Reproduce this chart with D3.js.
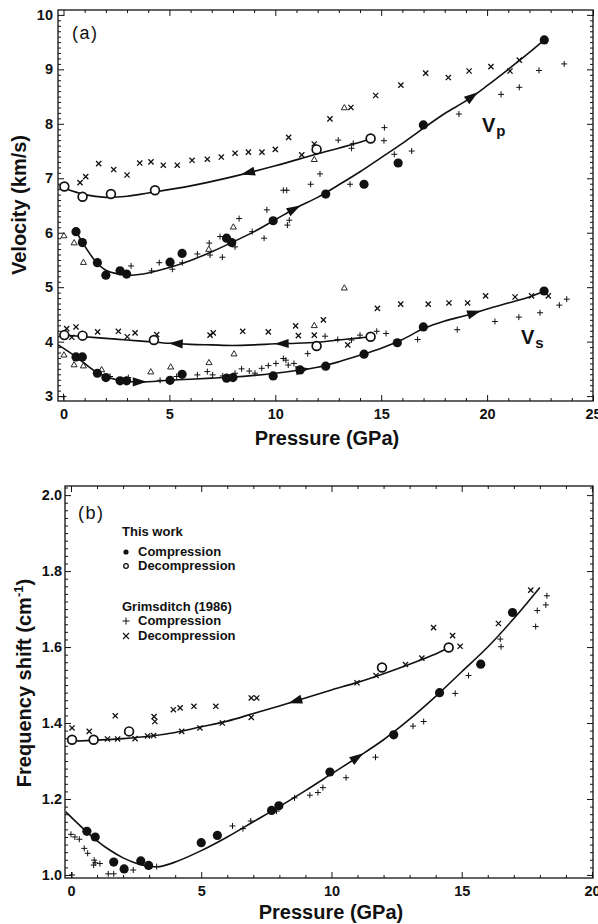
<!DOCTYPE html>
<html>
<head>
<meta charset="utf-8">
<script src="https://cdn.jsdelivr.net/npm/d3@7"></script>
<style>
  body { margin: 0; background: #fff; }
  svg { display: block; font-family: "Liberation Sans", Arial, Helvetica, sans-serif; }
  .tick text { font-size: 14.5px; font-weight: bold; fill: #111; }
  .tick line { stroke: #111; stroke-width: 1; }
  .fit { fill: none; stroke: #111; stroke-width: 1.6; }
</style>
</head>
<body>
<div id="chart"></div>
<script>
// ---------- panel (a): velocities vs pressure ----------
var vpCompThis = [[0.59,6.02],[0.89,5.82],[1.6,5.45],[2.0,5.22],[2.67,5.30],[2.98,5.24],[5.03,5.46],[5.6,5.62],[7.7,5.90],[7.94,5.82],[9.9,6.22],[12.38,6.71],[14.19,6.89],[15.8,7.28],[16.99,7.98],[22.7,9.54]];
var vpDecompThis = [[0.04,6.85],[0.9,6.66],[2.24,6.71],[4.32,6.78],[11.95,7.53],[14.5,7.73]];
var vpDecompG = [[0.78,6.92],[1.05,7.03],[1.66,7.27],[2.37,7.16],[3.0,7.06],[3.6,7.28],[4.13,7.30],[4.71,7.24],[5.37,7.24],[6.07,7.33],[6.79,7.35],[7.45,7.39],[8.1,7.46],[8.73,7.48],[9.37,7.48],[10.0,7.53],[10.63,7.75],[11.25,7.43],[11.84,7.63],[12.58,8.09],[13.57,8.30],[14.74,8.52],[15.93,8.71],[17.1,8.93],[18.17,8.85],[19.15,8.97],[20.18,9.05],[21.08,8.97],[21.52,9.17]];
var vpCompG = [[3.19,5.39],[4.16,5.30],[4.52,5.45],[5.14,5.33],[5.61,5.45],[6.32,5.61],[6.88,5.81],[6.92,5.59],[7.5,5.55],[7.39,5.93],[8.1,5.74],[8.91,6.02],[9.47,5.90],[8.29,6.26],[9.6,6.42],[10.57,6.14],[10.66,6.23],[10.38,6.78],[10.54,6.78],[12.11,7.08],[11.67,6.89],[13.53,6.89],[12.97,7.70],[13.6,7.55],[13.68,7.64],[15.13,7.69],[15.15,7.93],[15.62,7.44],[16.44,7.50],[18.67,8.18],[20.66,8.54],[21.52,8.67],[22.45,8.98],[23.64,9.10]];
var vpTri = [[0.02,5.94],[0.5,5.81],[0.94,5.45],[6.86,5.69],[8.02,6.10],[11.84,7.34],[13.26,8.29]];

var vsCompThis = [[0.59,3.72],[0.89,3.72],[1.6,3.42],[2.0,3.34],[2.67,3.28],[2.98,3.28],[5.03,3.29],[5.6,3.40],[7.7,3.33],[8.0,3.34],[9.9,3.37],[11.17,3.48],[12.38,3.55],[14.19,3.77],[15.76,3.98],[16.99,4.27],[22.69,4.93]];
var vsDecompThis = [[0.04,4.12],[0.9,4.11],[4.27,4.03],[11.95,3.92],[14.5,4.09]];
var vsDecompG = [[0.15,4.24],[0.39,4.08],[0.59,4.27],[1.61,4.18],[2.59,4.19],[3.01,4.09],[3.38,4.16],[4.4,4.13],[6.92,4.12],[7.07,4.16],[8.46,4.19],[9.67,4.18],[10.96,4.29],[11.09,4.11],[11.84,4.12],[12.27,4.40],[13.42,3.94],[14.82,4.61],[15.92,4.69],[17.22,4.69],[18.2,4.71],[19.08,4.71],[19.93,4.84],[21.32,4.82],[22.1,4.84],[22.89,4.84]];
var vsCompG = [[0.0,2.99],[2.2,3.36],[3.06,3.34],[4.56,3.29],[5.34,3.36],[6.32,3.39],[6.79,3.45],[7.04,3.39],[7.52,3.37],[8.1,3.42],[8.41,3.50],[8.77,3.46],[9.04,3.42],[9.36,3.51],[9.67,3.56],[10.03,3.60],[10.38,3.69],[10.5,3.66],[10.61,3.57],[10.88,3.60],[11.53,3.78],[12.35,4.10],[12.95,4.04],[13.6,4.03],[14.0,4.12],[14.79,4.19],[15.23,4.15],[16.72,4.04],[18.59,4.22],[20.37,4.37],[21.5,4.45],[22.5,4.53],[23.41,4.67],[23.76,4.78]];
var vsTri = [[0.02,3.75],[0.5,3.57],[0.94,3.55],[1.8,3.48],[4.12,3.44],[5.06,3.53],[6.87,3.61],[8.05,3.77],[11.84,4.29],[13.26,4.98]];

// fitted trend lines
var vpCompFit = [[0.6,6.02],[0.9,5.82],[1.5,5.48],[2.0,5.31],[2.6,5.24],[3.2,5.22],[4.0,5.26],[5.0,5.36],[6.0,5.49],[7.0,5.65],[8.0,5.83],[9.0,6.02],[10.0,6.24],[11.0,6.46],[12.0,6.65],[13.0,6.88],[14.0,7.12],[15.0,7.38],[16.0,7.64],[17.0,7.92],[18.0,8.19],[19.0,8.42],[20.0,8.70],[21.0,9.00],[22.0,9.31],[22.7,9.54]];
var vpDecompFit = [[0.0,6.82],[1.0,6.70],[2.0,6.65],[3.0,6.67],[4.0,6.73],[6.0,6.86],[8.0,7.03],[10.0,7.23],[12.0,7.45],[14.0,7.66],[14.5,7.73]];
var vsCompFit = [[-0.25,3.94],[0.6,3.72],[1.6,3.43],[2.5,3.30],[3.5,3.26],[5.0,3.29],[6.0,3.31],[7.0,3.33],[8.0,3.35],[9.0,3.38],[10.0,3.42],[11.0,3.47],[12.0,3.53],[13.0,3.63],[14.0,3.75],[15.0,3.88],[16.0,4.04],[17.0,4.24],[18.0,4.38],[19.0,4.48],[20.0,4.60],[21.0,4.71],[22.0,4.82],[22.7,4.93]];
var vsDecompFit = [[0.0,4.12],[1.0,4.09],[2.0,4.06],[3.0,4.03],[4.0,4.00],[5.0,3.97],[6.0,3.95],[7.0,3.94],[8.0,3.93],[9.0,3.94],[10.0,3.96],[11.0,3.97],[12.0,3.99],[13.0,4.03],[14.0,4.07],[14.5,4.09]];

var vpCompArrows = [10.9, 19.3];
var vpDecompArrows = [8.7];
var vsCompArrows = [3.6, 11.3, 19.4];
var vsDecompArrows = [5.3, 10.3];

// ---------- panel (b): frequency shift vs pressure ----------
var fCompThis = [[0.61,1.115],[0.93,1.10],[1.64,1.034],[2.04,1.016],[2.68,1.037],[2.98,1.025],[5.0,1.085],[5.62,1.104],[7.7,1.17],[7.98,1.182],[9.94,1.271],[12.39,1.369],[14.15,1.48],[15.73,1.555],[16.95,1.691]];
var fDecompThis = [[0.04,1.356],[0.87,1.356],[2.23,1.378],[11.94,1.546],[14.5,1.599]];
var fDecompG = [[0.04,1.387],[0.7,1.378],[1.4,1.358],[1.70,1.419],[1.79,1.358],[2.46,1.359],[2.94,1.366],[3.17,1.367],[3.19,1.417],[3.22,1.404],[3.93,1.435],[4.19,1.44],[4.25,1.378],[4.72,1.444],[4.95,1.387],[5.56,1.444],[5.81,1.40],[6.92,1.466],[7.13,1.466],[6.92,1.415],[10.98,1.506],[11.71,1.525],[12.84,1.554],[13.47,1.571],[13.92,1.651],[14.65,1.63],[14.94,1.602],[16.41,1.662],[17.65,1.75]];
var fCompG = [[0.0,1.107],[0.15,1.10],[0.32,1.094],[0.51,1.07],[0.64,1.057],[0.89,1.039],[0.93,1.032],[0.87,1.026],[1.11,1.03],[1.43,1.003],[1.64,1.003],[2.39,1.013],[0.04,1.0],[3.29,1.022],[6.2,1.129],[6.6,1.122],[6.9,1.142],[7.89,1.168],[8.58,1.203],[9.17,1.21],[9.48,1.217],[9.67,1.23],[10.56,1.256],[11.69,1.31],[13.13,1.392],[13.54,1.404],[14.75,1.478],[15.26,1.525],[16.48,1.621],[16.51,1.601],[17.84,1.654],[17.9,1.696],[18.23,1.711],[18.27,1.735]];

var fCompFit = [[-0.2,1.166],[0.5,1.12],[1.0,1.09],[1.5,1.065],[2.0,1.045],[2.5,1.031],[3.0,1.023],[3.4,1.022],[4.0,1.034],[5.0,1.064],[6.0,1.10],[7.0,1.14],[8.0,1.18],[9.0,1.222],[10.0,1.266],[11.0,1.31],[12.0,1.356],[13.0,1.41],[14.0,1.47],[15.0,1.535],[16.0,1.60],[17.0,1.675],[18.0,1.757]];
var fDecompFit = [[0.0,1.352],[1.0,1.355],[2.0,1.359],[3.0,1.365],[4.0,1.375],[5.0,1.39],[6.0,1.405],[7.0,1.425],[8.0,1.445],[9.0,1.466],[10.0,1.487],[11.0,1.507],[12.0,1.53],[13.0,1.555],[14.0,1.582],[14.5,1.598]];
var fCompArrows = [11.0];
var fDecompArrows = [8.6];

var legendRows = ["Compression", "Decompression"];

// ---------- drawing ----------
var W = 598, H = 924;
var svg = d3.select("#chart").append("svg").attr("width", W).attr("height", H);

function range(a, b, s) {
  var out = [];
  for (var i = 0; a + i * s <= b + 1e-9; i++) out.push(+(a + i * s).toFixed(4));
  return out;
}
function notIn(list, ref) {
  return list.filter(function(v) { return !ref.some(function(r) { return Math.abs(r - v) < 1e-6; }); });
}

function frame(box, x, y, xMaj, xMin, yMaj, yMin, yFmt, yPad) {
  var g = svg.append("g");
  g.append("g").attr("transform", "translate(0," + box.bottom + ")")
    .call(d3.axisBottom(x).tickValues(xMaj).tickSize(-6).tickPadding(8).tickFormat(d3.format("d")));
  g.append("g").attr("transform", "translate(0," + box.bottom + ")")
    .call(d3.axisBottom(x).tickValues(notIn(xMin, xMaj)).tickSize(-3).tickFormat(""));
  g.append("g").attr("transform", "translate(0," + box.top + ")")
    .call(d3.axisTop(x).tickValues(xMaj).tickSize(-6).tickFormat(""));
  g.append("g").attr("transform", "translate(0," + box.top + ")")
    .call(d3.axisTop(x).tickValues(notIn(xMin, xMaj)).tickSize(-3).tickFormat(""));
  g.append("g").attr("transform", "translate(" + box.left + ",0)")
    .call(d3.axisLeft(y).tickValues(yMaj).tickSize(-6).tickPadding(yPad).tickFormat(yFmt));
  g.append("g").attr("transform", "translate(" + box.left + ",0)")
    .call(d3.axisLeft(y).tickValues(notIn(yMin, yMaj)).tickSize(-3).tickFormat(""));
  g.append("g").attr("transform", "translate(" + box.right + ",0)")
    .call(d3.axisRight(y).tickValues(yMaj).tickSize(-6).tickFormat(""));
  g.append("g").attr("transform", "translate(" + box.right + ",0)")
    .call(d3.axisRight(y).tickValues(notIn(yMin, yMaj)).tickSize(-3).tickFormat(""));
  g.selectAll(".domain").remove();
  g.append("rect")
    .attr("x", box.left).attr("y", box.top)
    .attr("width", box.right - box.left).attr("height", box.bottom - box.top)
    .attr("fill", "none").attr("stroke", "#111").attr("stroke-width", 1.3);
}

function points(x, y, data, kind) {
  var g = svg.append("g");
  data.forEach(function(d) {
    var px = x(d[0]), py = y(d[1]);
    if (kind == "filled") {
      g.append("circle").attr("cx", px).attr("cy", py).attr("r", 4.6).attr("fill", "#111");
    } else if (kind == "open") {
      g.append("circle").attr("cx", px).attr("cy", py).attr("r", 4.4)
        .attr("fill", "#fff").attr("stroke", "#111").attr("stroke-width", 1.7);
    } else if (kind == "plus") {
      g.append("path").attr("d", "M" + (px - 3) + "," + py + "h6M" + px + "," + (py - 3) + "v6")
        .attr("stroke", "#111").attr("stroke-width", 1);
    } else if (kind == "cross") {
      g.append("path").attr("d", "M" + (px - 2.6) + "," + (py - 2.6) + "l5.2,5.2M" + (px - 2.6) + "," + (py + 2.6) + "l5.2,-5.2")
        .attr("stroke", "#111").attr("stroke-width", 1.3);
    } else if (kind == "tri") {
      g.append("path").attr("d", d3.symbol(d3.symbolTriangle, 16)())
        .attr("transform", "translate(" + px + "," + py + ")")
        .attr("fill", "none").attr("stroke", "#111").attr("stroke-width", 0.9);
    }
  });
}

function fit(x, y, nodes) {
  var line = d3.line().curve(d3.curveCatmullRom.alpha(0.5))
    .x(function(d) { return x(d[0]); }).y(function(d) { return y(d[1]); });
  svg.append("path").datum(nodes).attr("class", "fit").attr("d", line);
}

function at(nodes, p) {
  for (var i = 1; i < nodes.length; i++) {
    if (p <= nodes[i][0]) {
      var t = (p - nodes[i - 1][0]) / (nodes[i][0] - nodes[i - 1][0]);
      return nodes[i - 1][1] + t * (nodes[i][1] - nodes[i - 1][1]);
    }
  }
  return nodes[nodes.length - 1][1];
}

function arrows(x, y, nodes, list, dir) {
  list.forEach(function(p) {
    var x0 = x(p - 0.3), y0 = y(at(nodes, p - 0.3));
    var x1 = x(p + 0.3), y1 = y(at(nodes, p + 0.3));
    var ang = Math.atan2(y1 - y0, x1 - x0) * 180 / Math.PI + (dir < 0 ? 180 : 0);
    svg.append("path").attr("d", "M7,0L-7,-4.6L-7,4.6Z")
      .attr("transform", "translate(" + x(p) + "," + y(at(nodes, p)) + ") rotate(" + ang + ")")
      .attr("fill", "#111");
  });
}

// ----- panel (a) -----
var boxA = {left: 58, right: 593, top: 10, bottom: 401};
var xA = d3.scaleLinear().domain([-0.26, 25]).range([boxA.left, boxA.right]);
var yA = d3.scaleLinear().domain([2.91, 10.09]).range([boxA.bottom, boxA.top]);
frame(boxA, xA, yA, range(0, 25, 5), range(0, 25, 1), range(3, 10, 1), range(3, 10, 0.1), d3.format("d"), 5);

fit(xA, yA, vpCompFit); fit(xA, yA, vpDecompFit);
fit(xA, yA, vsCompFit); fit(xA, yA, vsDecompFit);
arrows(xA, yA, vpCompFit, vpCompArrows, 1);
arrows(xA, yA, vpDecompFit, vpDecompArrows, -1);
arrows(xA, yA, vsCompFit, vsCompArrows, 1);
arrows(xA, yA, vsDecompFit, vsDecompArrows, -1);
points(xA, yA, vpDecompG, "cross"); points(xA, yA, vsDecompG, "cross");
points(xA, yA, vpCompG, "plus"); points(xA, yA, vsCompG, "plus");
points(xA, yA, vpTri, "tri"); points(xA, yA, vsTri, "tri");
points(xA, yA, vpCompThis, "filled"); points(xA, yA, vsCompThis, "filled");
points(xA, yA, vpDecompThis, "open"); points(xA, yA, vsDecompThis, "open");

svg.append("text").attr("x", 72).attr("y", 39).attr("font-size", 18).attr("letter-spacing", 1.5)
  .attr("fill", "#111").text("(a)");
var vp = svg.append("text").attr("x", 482).attr("y", 132).attr("font-size", 20).attr("font-weight", "bold").attr("fill", "#111");
vp.append("tspan").text("V");
vp.append("tspan").attr("font-size", 15).attr("dy", 4).attr("dx", 1).text("p");
var vs = svg.append("text").attr("x", 521).attr("y", 344).attr("font-size", 20).attr("font-weight", "bold").attr("fill", "#111");
vs.append("tspan").text("V");
vs.append("tspan").attr("font-size", 15).attr("dy", 4).attr("dx", 1).text("s");

svg.append("text").attr("x", 327).attr("y", 445).attr("text-anchor", "middle")
  .attr("font-size", 20).attr("font-weight", "bold").attr("fill", "#111").text("Pressure (GPa)");
svg.append("text").attr("transform", "translate(26,205) rotate(-90)").attr("text-anchor", "middle")
  .attr("font-size", 20).attr("font-weight", "bold").attr("fill", "#111").text("Velocity (km/s)");

// ----- panel (b) -----
var boxB = {left: 65, right: 593, top: 486, bottom: 878};
var xB = d3.scaleLinear().domain([-0.23, 20.04]).range([boxB.left, boxB.right]);
var yB = d3.scaleLinear().domain([0.992, 2.024]).range([boxB.bottom, boxB.top]);
frame(boxB, xB, yB, range(0, 20, 5), range(0, 20, 1), range(1.0, 2.0, 0.2), range(1.0, 2.02, 0.02), d3.format(".1f"), 3);

fit(xB, yB, fCompFit); fit(xB, yB, fDecompFit);
arrows(xB, yB, fCompFit, fCompArrows, 1);
arrows(xB, yB, fDecompFit, fDecompArrows, -1);
points(xB, yB, fDecompG, "cross");
points(xB, yB, fCompG, "plus");
points(xB, yB, fCompThis, "filled");
points(xB, yB, fDecompThis, "open");

svg.append("text").attr("x", 78).attr("y", 519).attr("font-size", 18).attr("letter-spacing", 1.5)
  .attr("fill", "#111").text("(b)");

// legend
var lg = svg.append("g").attr("font-size", 13).attr("font-weight", "bold").attr("fill", "#111");
lg.append("text").attr("x", 122).attr("y", 536).text("This work");
lg.append("circle").attr("cx", 126).attr("cy", 552).attr("r", 2.6).attr("fill", "#111");
lg.append("text").attr("x", 138).attr("y", 556).text(legendRows[0]);
lg.append("circle").attr("cx", 126).attr("cy", 566).attr("r", 2.3).attr("fill", "none").attr("stroke", "#111").attr("stroke-width", 1.3);
lg.append("text").attr("x", 138).attr("y", 570).text(legendRows[1]);
lg.append("text").attr("x", 122).attr("y", 611).text("Grimsditch (1986)");
lg.append("path").attr("d", "M122.5,621h7M126,617.5v7").attr("stroke", "#111").attr("stroke-width", 1);
lg.append("text").attr("x", 138).attr("y", 625).text(legendRows[0]);
lg.append("path").attr("d", "M123,633l6,6M123,639l6,-6").attr("stroke", "#111").attr("stroke-width", 1.1);
lg.append("text").attr("x", 138).attr("y", 640).text(legendRows[1]);

svg.append("text").attr("x", 331).attr("y", 919).attr("text-anchor", "middle")
  .attr("font-size", 20).attr("font-weight", "bold").attr("fill", "#111").text("Pressure (GPa)");
var ft = svg.append("text").attr("transform", "translate(31,683) rotate(-90)").attr("text-anchor", "middle")
  .attr("font-size", 20).attr("font-weight", "bold").attr("fill", "#111");
ft.append("tspan").text("Frequency shift (cm");
ft.append("tspan").attr("font-size", 13).attr("dy", -8).text("-1");
ft.append("tspan").attr("dy", 8).text(")");
</script>
</body>
</html>
